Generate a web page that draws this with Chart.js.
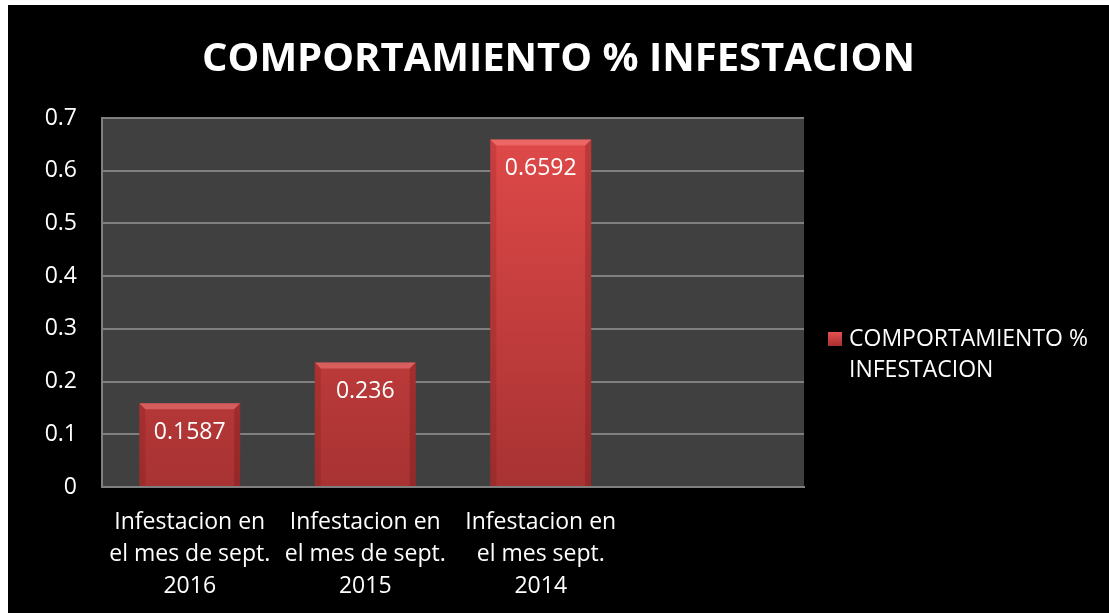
<!DOCTYPE html>
<html>
<head>
<meta charset="utf-8">
<script src="https://cdn.jsdelivr.net/npm/chart.js@4"></script>
<style>
  html, body { margin: 0; padding: 0; background: #ffffff; }
  #wrap { position: absolute; left: 8px; top: 5px; width: 1101px; height: 608px; background: #000000; }
</style>
</head>
<body>
<div id="wrap"><canvas id="grafico"></canvas></div>
<script>
// Datos del grafico
const categorias = [
    ['Infestacion en', 'el mes de sept.', '2016'],
    ['Infestacion en', 'el mes de sept.', '2015'],
    ['Infestacion en', 'el mes sept.', '2014'],
    ''
];
const valores = [0.1587, 0.236, 0.6592, null];
const serie = 'COMPORTAMIENTO % INFESTACION';
const leyenda = ['COMPORTAMIENTO %', 'INFESTACION'];
const titulo = 'COMPORTAMIENTO % INFESTACION';

const fuente = '"Open Sans", "Liberation Sans", sans-serif';

// Fondo gris del area de trazado
const fondoPlot = {
    id: 'fondoPlot',
    beforeDraw(chart) {
        const { ctx, chartArea: a } = chart;
        ctx.save();
        ctx.fillStyle = '#404040';
        ctx.fillRect(a.left, a.top, a.right - a.left, a.bottom - a.top);
        ctx.restore();
    }
};

// Relieve de las barras, etiquetas de valor y leyenda
const etiquetas = {
    id: 'etiquetas',
    afterDatasetsDraw(chart) {
        const ctx = chart.ctx;
        const meta = chart.getDatasetMeta(0);
        ctx.save();
        meta.data.forEach((bar, i) => {
            if (valores[i] == null) return;
            const w = bar.width, l = bar.x - w / 2, r = bar.x + w / 2;
            const t = bar.y, b = bar.base, e = 6;
            // borde superior claro
            ctx.fillStyle = 'rgba(255,140,140,0.45)';
            ctx.beginPath();
            ctx.moveTo(l, t); ctx.lineTo(r, t); ctx.lineTo(r - e, t + e); ctx.lineTo(l + e, t + e);
            ctx.closePath(); ctx.fill();
            // lados oscuros
            ctx.fillStyle = 'rgba(90,10,10,0.25)';
            ctx.beginPath();
            ctx.moveTo(r, t); ctx.lineTo(r, b); ctx.lineTo(r - e, b); ctx.lineTo(r - e, t + e);
            ctx.closePath(); ctx.fill();
            ctx.fillStyle = 'rgba(90,10,10,0.15)';
            ctx.beginPath();
            ctx.moveTo(l, t); ctx.lineTo(l, b); ctx.lineTo(l + e, b); ctx.lineTo(l + e, t + e);
            ctx.closePath(); ctx.fill();

            ctx.fillStyle = '#ffffff';
            ctx.font = '23px ' + fuente;
            ctx.textAlign = 'center';
            ctx.textBaseline = 'middle';
            ctx.fillText(String(valores[i]), bar.x, t + 29);
        });

        // leyenda a la derecha
        const a = chart.chartArea;
        const x = a.right + 24, y = a.top + 214;
        const g = ctx.createLinearGradient(0, y, 0, y + 14);
        g.addColorStop(0, '#e65050');
        g.addColorStop(1, '#a83030');
        ctx.fillStyle = g;
        ctx.fillRect(x, y, 14, 14);
        ctx.fillStyle = '#ffffff';
        ctx.font = '23px ' + fuente;
        ctx.textAlign = 'left';
        ctx.textBaseline = 'middle';
        leyenda.forEach((linea, k) => ctx.fillText(linea, x + 21, y + 7 + k * 31));
        ctx.restore();
    }
};

function degradado(context) {
    const chart = context.chart;
    const a = chart.chartArea;
    if (!a) return '#d04040';
    const g = chart.ctx.createLinearGradient(0, a.top, 0, a.bottom);
    g.addColorStop(0, '#e24a4a');
    g.addColorStop(1, '#a83232');
    return g;
}

document.addEventListener('DOMContentLoaded', () => {
    const ctx = document.getElementById('grafico').getContext('2d');
    new Chart(ctx, {
        type: 'bar',
        data: {
            labels: categorias,
            datasets: [{
                label: serie,
                data: valores,
                backgroundColor: degradado,
                borderWidth: 0,
                categoryPercentage: 1,
                barPercentage: 0.575
            }]
        },
        options: {
            responsive: true,
            maintainAspectRatio: false,
            animation: false,
            plugins: {
                legend: { display: false },
                tooltip: { enabled: false },
                title: {
                    display: true,
                    text: titulo,
                    color: '#ffffff',
                    font: { family: fuente, size: 40, weight: 'bold', lineHeight: 1.2 },
                    padding: { top: 31, bottom: 34 }
                }
            },
            scales: {
                x: {
                    grid: { display: false, drawTicks: false },
                    border: { display: true, color: '#7f7f7f', width: 2 },
                    ticks: {
                        color: '#ffffff',
                        padding: 20,
                        maxRotation: 0,
                        autoSkip: false,
                        font: { family: fuente, size: 23, lineHeight: 1.38 }
                    },
                    afterFit(scale) { scale.height = 126; }
                },
                y: {
                    min: 0,
                    max: 0.7,
                    grid: { color: '#7f7f7f', lineWidth: 2, drawTicks: false },
                    border: { display: true, color: '#7f7f7f', width: 2 },
                    ticks: {
                        stepSize: 0.1,
                        color: '#ffffff',
                        padding: 25,
                        font: { family: fuente, size: 23 },
                        callback: v => String(Math.round(v * 10) / 10)
                    },
                    afterFit(scale) { scale.width = 94; }
                },
                // eje vacio para reservar el espacio de la leyenda
                espacio: {
                    type: 'linear',
                    position: 'right',
                    grid: { display: false, drawTicks: false },
                    border: { display: false },
                    ticks: { display: false },
                    afterFit(scale) { scale.width = 305; }
                }
            }
        },
        plugins: [fondoPlot, etiquetas]
    });
});
</script>
</body>
</html>
